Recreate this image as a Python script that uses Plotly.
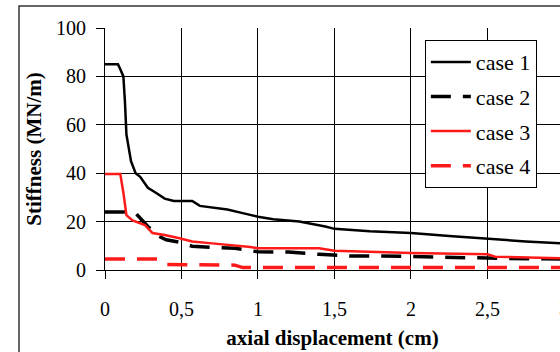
import plotly.graph_objects as go

# ---- data ----
x_case1 = [0, 0.085, 0.1, 0.12, 0.13, 0.14, 0.17, 0.2, 0.23, 0.26, 0.28, 0.33, 0.39, 0.45,
           0.57, 0.62, 0.69, 0.8, 0.9, 1.0, 1.1, 1.27, 1.44, 1.5, 1.73, 2.0, 2.25, 2.5, 2.75, 3.0]
y_case1 = [85, 85, 83, 80, 70, 56, 45, 40, 38.5, 36, 34, 32, 29.5, 28.5,
           28.5, 26.5, 26, 25, 23.5, 22, 21, 20, 18, 17, 16, 15.3, 14, 12.8, 11.8, 11]

x_case2 = [0, 0.13, 0.2, 0.28, 0.35, 0.4, 0.48, 0.57, 0.7, 0.85, 1.0, 1.2, 1.4, 1.6, 1.8,
           2.0, 2.3, 2.6, 3.0]
y_case2 = [24, 24, 23.5, 18, 14, 12.5, 11.6, 9.8, 9.3, 9, 7.5, 7.4, 6.5, 5.8, 5.8,
           5.5, 5.3, 4.8, 4.5]

x_case3 = [0, 0.1, 0.12, 0.14, 0.18, 0.22, 0.26, 0.31, 0.39, 0.48, 0.57, 0.7, 0.8, 0.95,
           1.0, 1.4, 1.5, 1.8, 2.0, 2.5, 2.55, 3.0]
y_case3 = [39.7, 39.7, 32, 22.7, 20.5, 19.4, 18.6, 15.3, 14.5, 13.2, 11.8, 11, 10.5, 9.5,
           9, 9, 8, 7.5, 7, 6.5, 5.5, 4.8]

x_case4 = [0, 0.35, 0.4, 0.85, 0.9, 3.0]
y_case4 = [4.5, 4.5, 2.3, 2, 1, 1]

names = ["case 1", "case 2", "case 3", "case 4"]
y_ticks = [0, 20, 40, 60, 80, 100]
x_ticks = [0, 0.5, 1, 1.5, 2, 2.5, 3]
x_tick_text = ["0", "0,5", "1", "1,5", "2", "2,5", "3"]
X_MAX = 2.974

SERIF = "Liberation Serif"

fig = go.Figure()
styles = [
    dict(color="black", width=2.5, dash="solid"),
    dict(color="black", width=3.5, dash="20px,12px"),
    dict(color="#ff1a1a", width=2.5, dash="solid"),
    dict(color="#ff1a1a", width=3.5, dash="20px,12px"),
]
for i, (xs, ys) in enumerate([(x_case1, y_case1), (x_case2, y_case2),
                              (x_case3, y_case3), (x_case4, y_case4)]):
    fig.add_trace(go.Scatter(x=xs, y=ys, mode="lines", name=names[i],
                             legendgroup=names[i], line=styles[i]))

fig.update_layout(
    width=560, height=352,
    margin=dict(l=105, r=0, t=28, b=82),
    paper_bgcolor="white", plot_bgcolor="white",
    font=dict(family=SERIF, color="black", size=20),
    showlegend=True,
    legend=dict(x=0.703, y=0.95, xanchor="left", yanchor="top",
                bgcolor="white", bordercolor="black", borderwidth=1,
                font=dict(family=SERIF, size=22, color="black"),
                tracegroupgap=3, itemwidth=40),
    xaxis=dict(range=[0, X_MAX], tickvals=x_ticks, ticktext=x_tick_text,
               showgrid=True, gridcolor="black", gridwidth=1,
               showline=True, linecolor="black", linewidth=1,
               ticks="outside", ticklen=8, tickcolor="black",
               ticklabelstandoff=13, zeroline=False,
               tickfont=dict(family=SERIF, size=20),
               title=dict(text="<b>axial displacement (cm)</b>", standoff=11,
                          font=dict(family=SERIF, size=21))),
    yaxis=dict(range=[0, 100], tickvals=y_ticks,
               showgrid=True, gridcolor="black", gridwidth=1,
               showline=True, linecolor="black", linewidth=1,
               ticks="outside", ticklen=8, tickcolor="black",
               ticklabelstandoff=6, zeroline=False,
               tickfont=dict(family=SERIF, size=20),
               title=dict(text="<b>Stiffness (MN/m)</b>", standoff=8,
                          font=dict(family=SERIF, size=21))),
)

# the partially visible "3" tick label at the cut right edge
fig.add_annotation(x=x_ticks[-1] / X_MAX, xref="paper", y=-0.157, yref="paper",
                   text=x_tick_text[-1], showarrow=False,
                   xanchor="center", yanchor="middle",
                   font=dict(family=SERIF, size=20, color="black"))

# outer frame of the figure
fig.add_shape(type="rect", xref="paper", yref="paper",
              x0=-0.189, x1=1.05, y0=-0.5, y1=1.091,
              line=dict(color="#333333", width=1.5), layer="below")

fig.write_html("out.html", config={"displayModeBar": False},
               post_script="document.body.style.margin='0';")
